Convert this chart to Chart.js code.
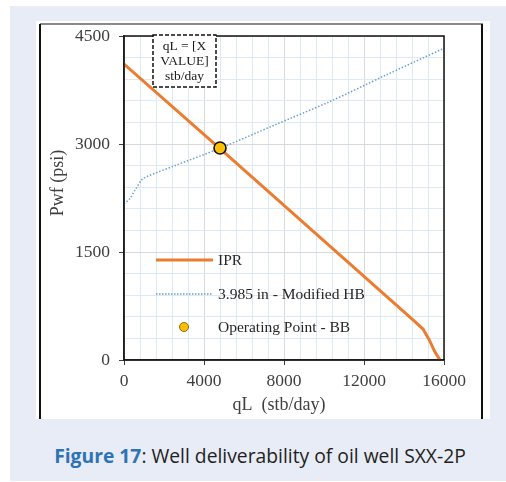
<!DOCTYPE html>
<html><head><meta charset="utf-8">
<script src="https://cdn.jsdelivr.net/npm/chart.js@4/dist/chart.umd.min.js"></script>
<style>
html,body{margin:0;padding:0;background:#fff;width:506px;height:482px;overflow:hidden;position:relative}
#panel{position:absolute;left:10px;top:6px;width:496px;height:475px;background:#e8ecf6}
#box{position:absolute;left:36px;top:21px;width:454px;height:398px;background:#fff}
#ftop{position:absolute;left:40px;top:23px;width:443px;height:2px;background:#8a8a8a}
#fleft{position:absolute;left:39px;top:24px;width:2px;height:395px;background:#111}
#fright{position:absolute;left:481px;top:24px;width:2px;height:395px;background:#111}
#wrap{position:absolute;left:0;top:0;width:506px;height:420px}
#cap{position:absolute;left:12px;width:496px;top:442px;text-align:center;font-family:'Open Sans';font-size:19.3px;color:#231f20;white-space:nowrap}
#cap b{color:#2e74b5;font-weight:700}
</style></head><body>
<div id="panel"></div><div id="box"></div><div id="ftop"></div><div id="fleft"></div><div id="fright"></div>
<div id="wrap"><canvas id="c" width="506" height="420"></canvas></div>
<div id="cap"><b>Figure 17</b>: Well deliverability of oil well SXX-2P</div>
<script>
// ---- data ----
const iprQ = [0, 4800, 14450, 14950, 15250, 15550, 15800];
const iprP = [4110, 2935, 556, 430, 285, 110, 0];
const vlpQ = [0, 300, 550, 880, 1130, 2500, 4800, 7500, 10300, 13000, 16000];
const vlpP = [2167, 2245, 2360, 2500, 2546, 2695, 2940, 3260, 3590, 3945, 4330];
const opQ = [4800];
const opP = [2945];
const xTickLabels = ['0', '4000', '8000', '12000', '16000'];
const yTickLabels = ['0', '1500', '3000', '4500'];
const seriesNames = ['IPR', '3.985 in - Modified HB', 'Operating Point - BB'];
const boxLines = ['qL = [X', 'VALUE]', 'stb/day'];
const xTitle = 'qL  (stb/day)';
const yTitle = 'Pwf (psi)';

const pts = (xs, ys) => xs.map((x, i) => ({x: x, y: ys[i]}));
const SERIF = "'Liberation Serif', 'Times New Roman', serif";
const ORANGE = '#ec7c30', BLUE = '#6a9fd4', GOLD = '#ffc000';

const overlay = {
  id: 'overlay',
  afterDraw(chart) {
    const ctx = chart.ctx, a = chart.chartArea;
    ctx.save();
    // plot frame
    ctx.strokeStyle = '#111'; ctx.lineWidth = 1.5;
    ctx.strokeRect(a.left, a.top, a.right - a.left, a.bottom - a.top);
    // axis titles
    ctx.font = '18px ' + SERIF; ctx.fillStyle = '#404040';
    ctx.textAlign = 'center'; ctx.textBaseline = 'middle';
    ctx.fillText(xTitle, a.left + 155, a.bottom + 45);
    ctx.save(); ctx.translate(a.left - 66, a.top + 147); ctx.rotate(-Math.PI / 2);
    ctx.fillText(yTitle, 0, 0); ctx.restore();
    // legend
    const lx = a.left + 32, tx = a.left + 94;
    const ys = [a.top + 224, a.top + 258, a.top + 291];
    ctx.lineWidth = 3; ctx.strokeStyle = ORANGE; ctx.setLineDash([]);
    ctx.beginPath(); ctx.moveTo(lx, ys[0]); ctx.lineTo(lx + 57, ys[0]); ctx.stroke();
    ctx.lineWidth = 1.3; ctx.strokeStyle = BLUE; ctx.setLineDash([1.5, 1.5]);
    ctx.beginPath(); ctx.moveTo(lx, ys[1]); ctx.lineTo(lx + 56, ys[1]); ctx.stroke();
    ctx.setLineDash([]);
    ctx.beginPath(); ctx.arc(lx + 28, ys[2], 4.5, 0, Math.PI * 2);
    ctx.fillStyle = GOLD; ctx.fill(); ctx.lineWidth = 0.8; ctx.strokeStyle = '#6b5200'; ctx.stroke();
    ctx.font = '15.5px ' + SERIF; ctx.fillStyle = '#262626';
    ctx.textBaseline = 'middle'; ctx.textAlign = 'left';
    seriesNames.forEach((n, i) => ctx.fillText(n, tx, ys[i] + 1));
    // annotation box
    const bx = a.left + 29, by = a.top - 1, bw = 63, bh = 52;
    ctx.fillStyle = '#fff'; ctx.fillRect(bx, by, bw, bh);
    ctx.strokeStyle = '#111'; ctx.lineWidth = 1.5; ctx.setLineDash([4, 2]);
    ctx.strokeRect(bx, by, bw, bh);
    ctx.setLineDash([]);
    ctx.font = '13.5px ' + SERIF; ctx.fillStyle = '#1a1a1a'; ctx.textAlign = 'center';
    boxLines.forEach((t, i) => ctx.fillText(t, bx + bw / 2, by + 11 + i * 15));
    ctx.restore();
  }
};

new Chart(document.getElementById('c'), {
  type: 'line',
  data: {
    datasets: [
      {label: seriesNames[0], data: pts(iprQ, iprP), borderColor: ORANGE, borderWidth: 3, pointRadius: 0, tension: 0, order: 2},
      {label: seriesNames[1], data: pts(vlpQ, vlpP), borderColor: BLUE, borderWidth: 1.5, borderDash: [1.5, 1.8], pointRadius: 0, tension: 0.3, order: 3},
      {label: seriesNames[2], data: pts(opQ, opP), showLine: false, pointRadius: 6, pointHoverRadius: 6,
       backgroundColor: GOLD, borderColor: '#111', borderWidth: 1.6, order: 1}
    ]
  },
  options: {
    responsive: false, animation: false, events: [],
    layout: {padding: {left: 40, top: 36, right: 62, bottom: 0}},
    plugins: {legend: {display: false}, tooltip: {enabled: false}},
    scales: {
      x: {
        type: 'linear', min: 0, max: 16000,
        afterFit: s => { s.height = 60; },
        ticks: {stepSize: 800, autoSkip: false, maxRotation: 0, padding: 6,
          font: {family: SERIF, size: 17.5}, color: '#404040',
          callback: v => xTickLabels.includes(String(v)) ? String(v) : ''},
        grid: {color: c => (c.tick && c.tick.value % 4000 === 0) ? '#d9d9d9' : '#dde9f3', lineWidth: 1,
          tickLength: 5, tickColor: c => (c.tick && c.tick.value % 4000 === 0) ? '#404040' : 'rgba(0,0,0,0)'},
        border: {color: '#404040', width: 1.5},
        title: {display: false}
      },
      y: {
        type: 'linear', min: 0, max: 4500,
        afterFit: s => { s.width = 84; },
        ticks: {stepSize: 300, autoSkip: false, padding: 9,
          font: {family: SERIF, size: 17.5}, color: '#404040',
          callback: v => yTickLabels.includes(String(v)) ? String(v) : ''},
        grid: {color: c => (c.tick && c.tick.value % 1500 === 0) ? '#d9d9d9' : '#dde9f3', lineWidth: 1,
          tickLength: 5, tickColor: c => (c.tick && c.tick.value % 1500 === 0) ? '#404040' : 'rgba(0,0,0,0)'},
        border: {color: '#404040', width: 1.5},
        title: {display: false}
      }
    }
  },
  plugins: [overlay]
});
</script>
</body></html>
